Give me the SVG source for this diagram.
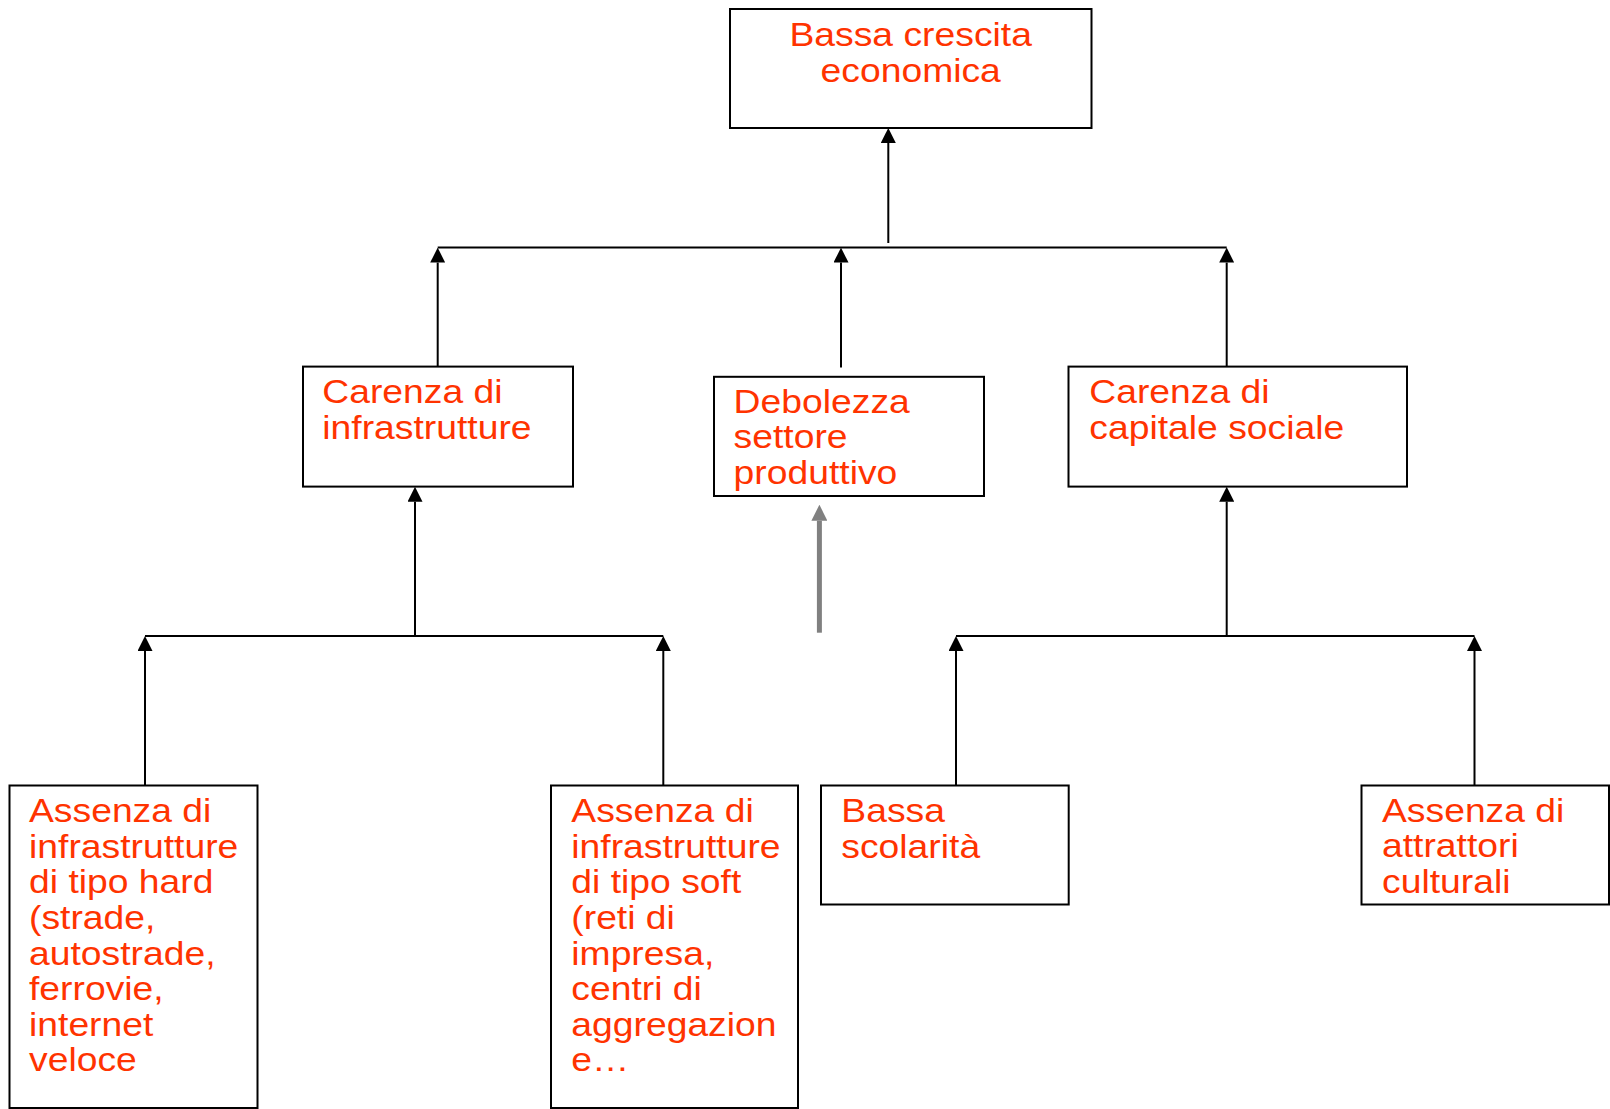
<svg xmlns="http://www.w3.org/2000/svg" width="1610" height="1109" viewBox="0 0 1610 1109">
<defs>
<style>
.box{fill:#fff;stroke:#000;stroke-width:2}
.lbl{font-family:"Liberation Sans",Arial,sans-serif;font-size:33px;fill:#ff3300}
.con{stroke:#000;stroke-width:2;fill:none}
.gray{stroke:#808080;stroke-width:5;fill:none}
</style>
<marker id="ah" viewBox="0 0 10 10" refX="0" refY="5" markerWidth="15" markerHeight="15" markerUnits="userSpaceOnUse" orient="auto">
<path d="M0,0 L10,5 L0,10 z" fill="#000"/>
</marker>
<marker id="ahg" viewBox="0 0 10 10" refX="0" refY="5" markerWidth="16" markerHeight="16" markerUnits="userSpaceOnUse" orient="auto">
<path d="M0,0 L10,5 L0,10 z" fill="#808080"/>
</marker>
</defs>
<rect width="1610" height="1109" fill="#fff"/>

<g id="connectors">
<line class="con" x1="888.3" y1="243" x2="888.3" y2="143" marker-end="url(#ah)"/>
<line class="con" x1="437.7" y1="247.6" x2="1226.7" y2="247.6"/>
<line class="con" x1="437.7" y1="366.6" x2="437.7" y2="262.6" marker-end="url(#ah)"/>
<line class="con" x1="841" y1="367.6" x2="841" y2="262.6" marker-end="url(#ah)"/>
<line class="con" x1="1226.7" y1="366.6" x2="1226.7" y2="262.6" marker-end="url(#ah)"/>
<line class="con" x1="415" y1="636" x2="415" y2="501.7" marker-end="url(#ah)"/>
<line class="con" x1="145" y1="636" x2="663.3" y2="636"/>
<line class="con" x1="145" y1="785.5" x2="145" y2="651" marker-end="url(#ah)"/>
<line class="con" x1="663.3" y1="785.5" x2="663.3" y2="651" marker-end="url(#ah)"/>
<line class="con" x1="1226.7" y1="636" x2="1226.7" y2="501.7" marker-end="url(#ah)"/>
<line class="con" x1="956" y1="636" x2="1474.5" y2="636"/>
<line class="con" x1="956" y1="785.5" x2="956" y2="651" marker-end="url(#ah)"/>
<line class="con" x1="1474.5" y1="785.5" x2="1474.5" y2="651" marker-end="url(#ah)"/>
<line class="gray" x1="819.4" y1="632.7" x2="819.4" y2="520.7" marker-end="url(#ahg)"/>
</g>

<g id="n-top">
<rect class="box" x="730" y="9" width="361.5" height="119"/>
<text class="lbl" text-anchor="middle" transform="translate(910.7,46) scale(1.13,1)"><tspan x="0">Bassa crescita</tspan><tspan x="0" dy="35.8">economica</tspan></text>
</g>

<g id="n-infra">
<rect class="box" x="303" y="366.6" width="270" height="120"/>
<text class="lbl" transform="translate(322.3,403.3) scale(1.13,1)"><tspan x="0">Carenza di</tspan><tspan x="0" dy="36">infrastrutture</tspan></text>
</g>

<g id="n-debolezza">
<rect class="box" x="714" y="376.8" width="270" height="119.2"/>
<text class="lbl" transform="translate(733.6,412.6) scale(1.13,1)"><tspan x="0">Debolezza</tspan><tspan x="0" dy="35.8">settore</tspan><tspan x="0" dy="35.8">produttivo</tspan></text>
</g>

<g id="n-capitale">
<rect class="box" x="1068.5" y="366.6" width="338.5" height="120"/>
<text class="lbl" transform="translate(1089.3,403.3) scale(1.13,1)"><tspan x="0">Carenza di</tspan><tspan x="0" dy="36">capitale sociale</tspan></text>
</g>

<g id="n-hard">
<rect class="box" x="9.5" y="785.5" width="248" height="322.5"/>
<text class="lbl" transform="translate(29,822.3) scale(1.13,1)"><tspan x="0">Assenza di</tspan><tspan x="0" dy="35.6">infrastrutture</tspan><tspan x="0" dy="35.6">di tipo hard</tspan><tspan x="0" dy="35.6">(strade,</tspan><tspan x="0" dy="35.6">autostrade,</tspan><tspan x="0" dy="35.6">ferrovie,</tspan><tspan x="0" dy="35.6">internet</tspan><tspan x="0" dy="35.6">veloce</tspan></text>
</g>

<g id="n-soft">
<rect class="box" x="551" y="785.5" width="247" height="322.5"/>
<text class="lbl" transform="translate(571.3,822.3) scale(1.13,1)"><tspan x="0">Assenza di</tspan><tspan x="0" dy="35.6">infrastrutture</tspan><tspan x="0" dy="35.6">di tipo soft</tspan><tspan x="0" dy="35.6">(reti di</tspan><tspan x="0" dy="35.6">impresa,</tspan><tspan x="0" dy="35.6">centri di</tspan><tspan x="0" dy="35.6">aggregazion</tspan><tspan x="0" dy="35.6">e…</tspan></text>
</g>

<g id="n-scolarita">
<rect class="box" x="821" y="785.5" width="247.7" height="119"/>
<text class="lbl" transform="translate(841.3,821.7) scale(1.13,1)"><tspan x="0">Bassa</tspan><tspan x="0" dy="36">scolarità</tspan></text>
</g>

<g id="n-attrattori">
<rect class="box" x="1361.5" y="785.5" width="247.5" height="119"/>
<text class="lbl" transform="translate(1382,821.7) scale(1.13,1)"><tspan x="0">Assenza di</tspan><tspan x="0" dy="35.8">attrattori</tspan><tspan x="0" dy="35.8">culturali</tspan></text>
</g>
</svg>
